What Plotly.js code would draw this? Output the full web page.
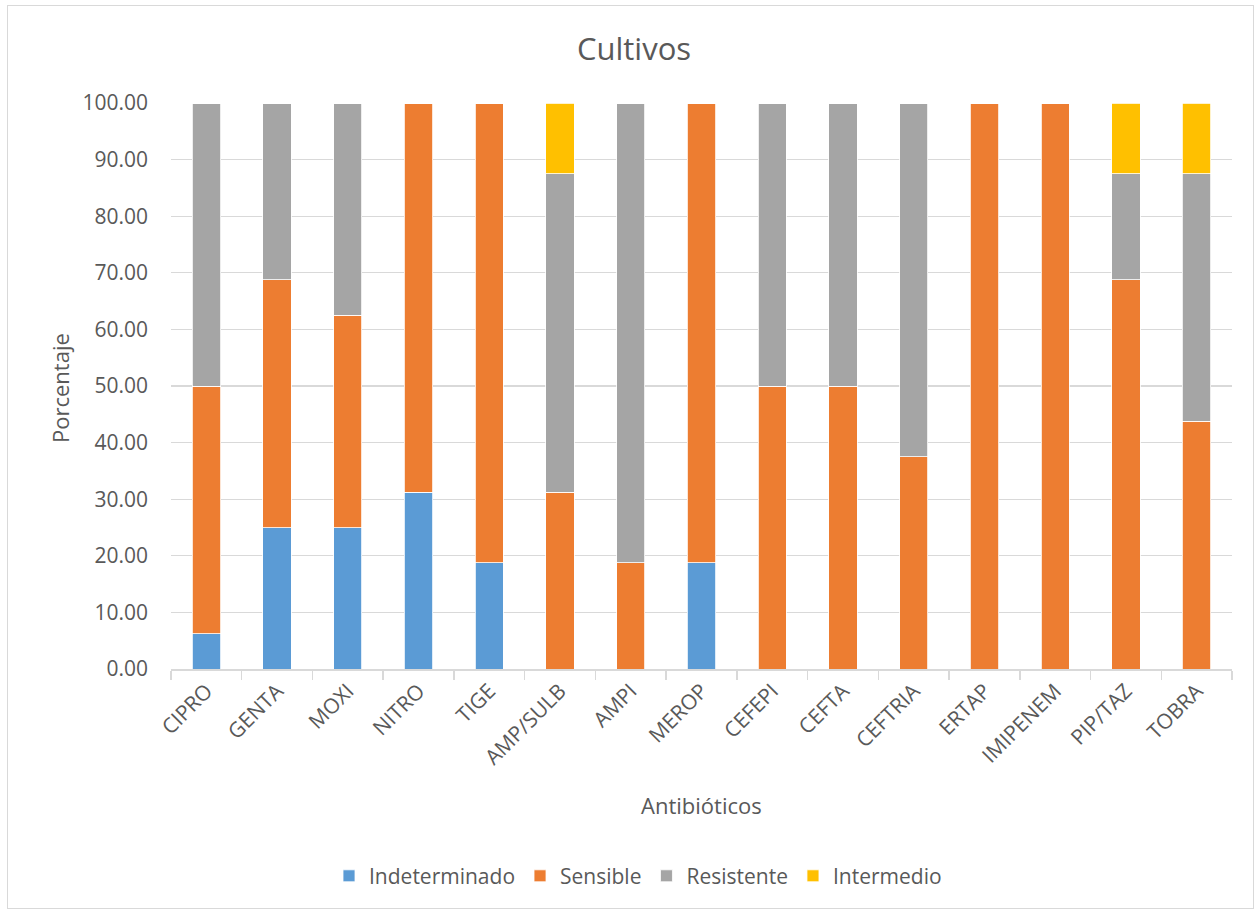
<!DOCTYPE html>
<html><head><meta charset="utf-8">
<script src="https://cdn.plot.ly/plotly-3.0.1.min.js"></script>
<style>
body{margin:0;background:#fff;}
#wrap{position:relative;width:1260px;height:913px;}
#chart{width:1260px;height:913px;}
#frame{position:absolute;left:7px;top:5px;width:1245px;height:902px;border:1px solid #d9d9d9;pointer-events:none;}
</style></head>
<body><div id="wrap"><div id="chart"></div><div id="frame"></div></div>
<script>
const categories = ["CIPRO","GENTA","MOXI","NITRO","TIGE","AMP/SULB","AMPI","MEROP","CEFEPI","CEFTA","CEFTRIA","ERTAP","IMIPENEM","PIP/TAZ","TOBRA"];
const indeterminado = [6.25,25,25,31.25,18.75,0,0,18.75,0,0,0,0,0,0,0];
const sensible = [43.75,43.75,37.5,68.75,81.25,31.25,18.75,81.25,50,50,37.5,100,100,68.75,43.75];
const resistente = [50,31.25,37.5,0,0,56.25,81.25,0,50,50,62.5,0,0,18.75,43.75];
const intermedio = [0,0,0,0,0,12.5,0,0,0,0,0,0,0,12.5,12.5];
const seriesNames = ["Indeterminado","Sensible","Resistente","Intermedio"];
const colors = ["#5b9bd5","#ed7d31","#a5a5a5","#ffc000"];
const vals = [indeterminado, sensible, resistente, intermedio];
const F = "'Open Sans', 'Noto Sans', sans-serif";
const traces = vals.map((v,i)=>({
  type:"bar", name:seriesNames[i], x:categories, y:v,
  marker:{color:colors[i], line:{color:"#ffffff", width:0.8}},
  hoverinfo:"x+y+name"
}));
const layout = {
  width:1260, height:913,
  margin:{l:171, r:28, t:103, b:244},
  barmode:"stack", bargap:0.6,
  paper_bgcolor:"#fff", plot_bgcolor:"#fff",
  font:{family:F, color:"#595959", size:21},
  showlegend:true,
  legend:{orientation:"h", x:(638-171)/1061, xanchor:"center", y:-0.366, yanchor:"middle",
    font:{size:21, color:"#595959"}, itemwidth:30, traceorder:"normal"},
  xaxis:{type:"category", showgrid:false, showline:true, linecolor:"#d9d9d9", linewidth:1.5,
    ticks:"outside", tickson:"boundaries", ticklen:9, tickcolor:"#d9d9d9", tickwidth:1.5,
    tickangle:-45, tickfont:{size:21, color:"#595959"}, fixedrange:true},
  yaxis:{range:[0,100], dtick:10, tickformat:".2f", showgrid:true, gridcolor:"#d9d9d9", gridwidth:1.2,
    zeroline:false, showline:false, ticks:"", ticklen:0, ticklabelstandoff:22, tickfont:{size:21, color:"#595959"}},
  title:{text:"Cultivos", font:{size:31, color:"#595959", family:F}, x:(634/1260), xref:"container", xanchor:"center", y:1-49/913, yanchor:"middle"},
  annotations:[
    {text:"Antibióticos", xref:"paper", yref:"paper", x:(701-171)/1061, y:-(805-669)/566, xanchor:"center", yanchor:"middle", showarrow:false, font:{size:22, color:"#595959"}},
    {text:"Porcentaje", xref:"paper", yref:"paper", x:-(171-60)/1061, y:(669-388)/566, textangle:-90, xanchor:"center", yanchor:"middle", showarrow:false, font:{size:22, color:"#595959"}}
  ]
};
Plotly.newPlot("chart", traces, layout, {displayModeBar:false, staticPlot:true});
</script></body></html>
